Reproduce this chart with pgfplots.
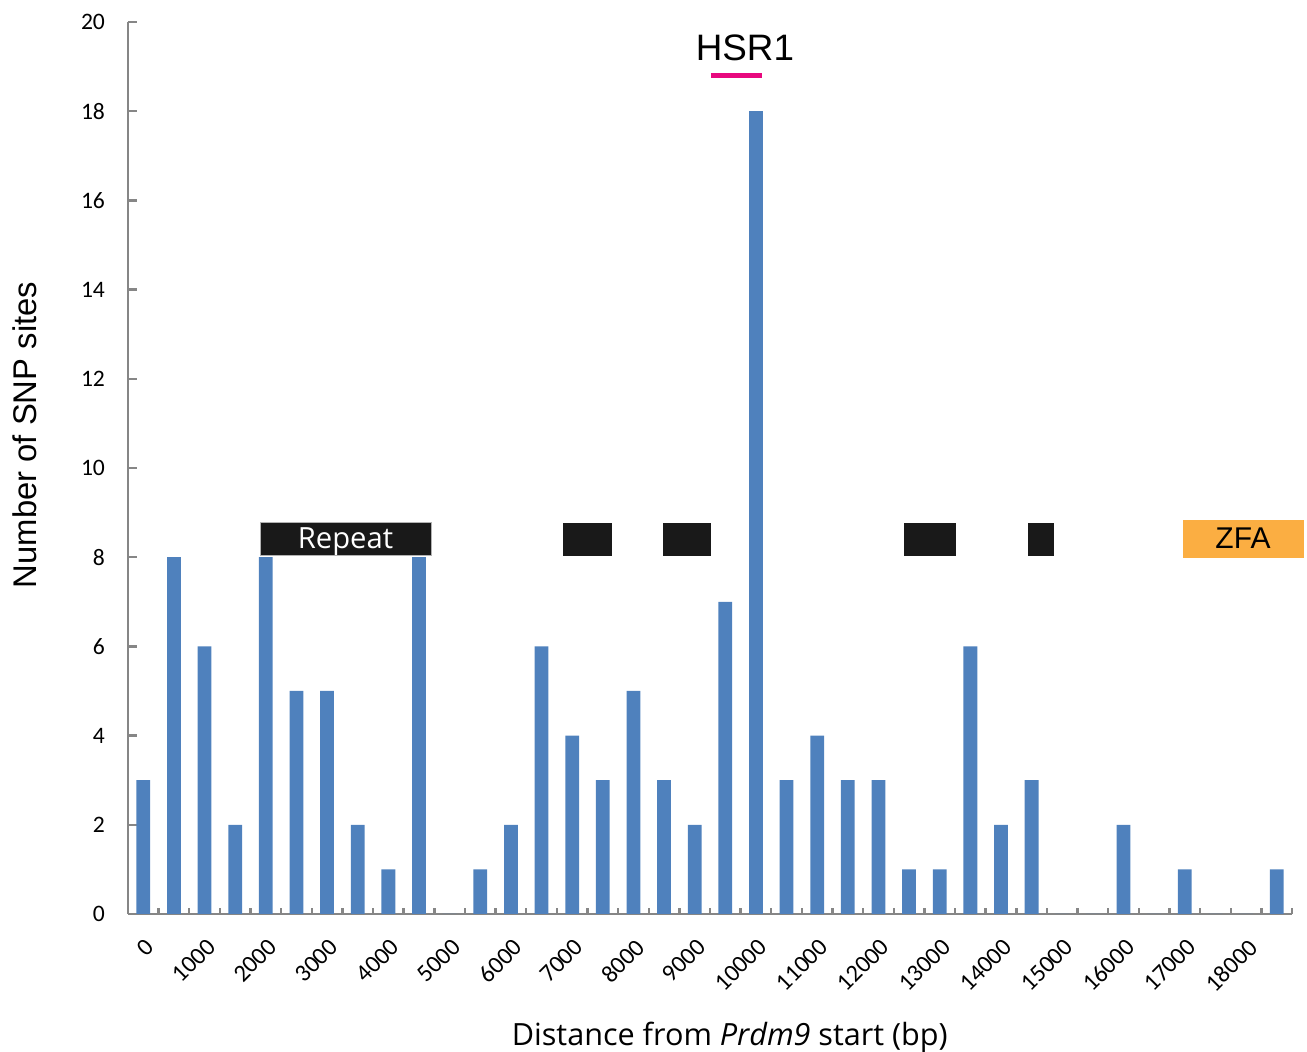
\documentclass[border=0pt]{standalone}
\usepackage{fontspec}
\setmainfont{Liberation Sans}
\newfontfamily\calibri{Carlito}
\newfontfamily\meiryo{Open Sans}
\usepackage{pgfplots}
\pgfplotsset{compat=1.18}
\definecolor{barblue}{HTML}{4F81BD}
\definecolor{axisgray}{HTML}{868686}
\definecolor{zfaorange}{HTML}{FBAE42}
\definecolor{hsrpink}{HTML}{E8087E}
\begin{document}
\begin{tikzpicture}
\useasboundingbox (-64pt,-69pt) rectangle (589.5pt,457pt);
\begin{axis}[
  scale only axis, width=582pt, height=446pt,
  xmin=-0.5, xmax=37.5, ymin=0, ymax=20,
  axis x line=bottom, axis y line=left,
  axis line style={-, draw=axisgray, line width=1.2pt},
  clip=false,
  /pgf/number format/assume math mode=true,
  xtick={0,2,...,36},
  xticklabels={0,1000,2000,3000,4000,5000,6000,7000,8000,9000,10000,11000,12000,13000,14000,15000,16000,17000,18000},
  major x tick style={draw=none},
  minor xtick={-0.5,0.5,...,37.5},
  minor x tick style={draw=axisgray, line width=1.2pt},
  minor tick length=3pt,
  xtick align=inside,
  ytick={0,2,...,20},
  ytick align=inside,
  major y tick style={draw=axisgray, line width=1.2pt},
  major tick length=4.5pt,
  x tick label style={font=\calibri\fontsize{12.2}{13}\selectfont, yshift=-11.5pt, xshift=0.5pt, rotate=45, anchor=north east, inner sep=0pt},
  y tick label style={font=\calibri\fontsize{11.8}{12}\selectfont, xshift=-8pt},
  ylabel={Number of SNP sites},
  ylabel style={font=\fontsize{16.4}{18}\selectfont, at={(axis description cs:-0.0885,0.537)}, anchor=center},
  xlabel={Distance from \textit{Prdm9} start (bp)},
  xlabel style={font=\meiryo\fontsize{15.3}{17}\selectfont, at={(axis description cs:0.517,-0.138)}, anchor=center},
]
\addplot[ybar, bar width=0.45, fill=barblue, draw=none] table {
x y
0 3
1 8
2 6
3 2
4 8
5 5
6 5
7 2
8 1
9 8
10 0
11 1
12 2
13 6
14 4
15 3
16 5
17 3
18 2
19 7
20 18
21 3
22 4
23 3
24 3
25 1
26 1
27 6
28 2
29 3
30 0
31 0
32 2
33 0
34 1
35 0
36 0
37 1
};
\fill[black!90, draw=gray!60, line width=0.4pt] (axis cs:3.81,8.03) rectangle (axis cs:9.39,8.77);
\node[text=white, font=\meiryo\fontsize{14.6}{16}\selectfont] at (axis cs:6.6,8.36) {Repeat};
\fill[black!90] (axis cs:13.70,8.03) rectangle (axis cs:15.30,8.77);
\fill[black!90] (axis cs:16.97,8.03) rectangle (axis cs:18.53,8.77);
\fill[black!90] (axis cs:24.83,8.03) rectangle (axis cs:26.53,8.77);
\fill[black!90] (axis cs:28.88,8.03) rectangle (axis cs:29.73,8.77);
\fill[zfaorange] (axis cs:33.94,7.98) rectangle (axis cs:37.89,8.83);
\node[font=\fontsize{15}{17}\selectfont] at (axis cs:35.9,8.42) {ZFA};
\node[font=\fontsize{18.4}{20}\selectfont] at (axis cs:19.64,19.42) {HSR1};
\draw[hsrpink, line width=2.5pt] (axis cs:18.53,18.79) -- (axis cs:20.20,18.79);
\end{axis}
\end{tikzpicture}
\end{document}
